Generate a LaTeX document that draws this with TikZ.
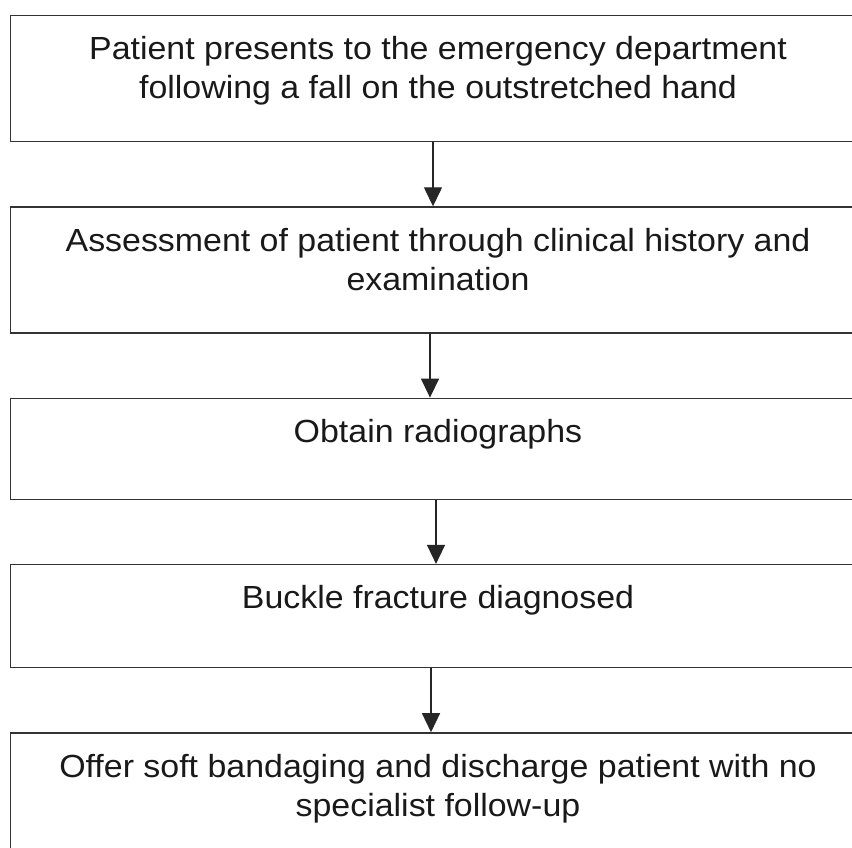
\documentclass[tikz,border=0pt]{standalone}
\usepackage{fontspec}
\setmainfont{Liberation Sans}[FakeStretch=1.06]
\usetikzlibrary{positioning,arrows.meta}

\begin{document}
\begin{tikzpicture}[x=1pt,y=1pt,>=latex]

% --- Global TikZ Styles ---
\tikzset{
    stepbox/.style={
        draw=black!80,
        line width=1.3pt,
        rectangle,
        inner xsep=10pt,
        inner ysep=21pt,
        text=black!90,
        font=\fontsize{32}{39}\selectfont
    },
    arrow/.style={
        -{Triangle[width=18pt,length=19pt]},
        line width=1.4pt,
        draw=black!85
    }
}

% Canvas
\useasboundingbox (0,0) rectangle (852,-848);

% ==================================================
% --- Boxes ---
% ==================================================

\node[stepbox, anchor=north] (fall) at (438,-15)
    {\parbox[c][84pt][t]{835pt}{\centering
     Patient presents to the emergency department\\
     following a fall on the outstretched hand}};

\node[stepbox, below=64pt of fall] (assess)
    {\parbox[c][84pt][t]{835pt}{\centering
     Assessment of patient through clinical history and\\
     examination}};

\node[stepbox, below=64pt of assess] (xray)
    {\parbox[c][59pt][t]{835pt}{\centering
     Obtain radiographs}};

\node[stepbox, below=64pt of xray] (buckle)
    {\parbox[c][61pt][t]{835pt}{\centering
     Buckle fracture diagnosed}};

\node[stepbox, below=64pt of buckle] (discharge)
    {\parbox[c][84pt][t]{835pt}{\centering
     Offer soft bandaging and discharge patient with no\\
     specialist follow-up}};

% ==================================================
% --- Arrows ---
% ==================================================

\draw[arrow] ([xshift=-5pt]fall.south) -- ([xshift=-5pt]assess.north);
\draw[arrow] ([xshift=-8pt]assess.south) -- ([xshift=-8pt]xray.north);
\draw[arrow] ([xshift=-2pt]xray.south) -- ([xshift=-2pt]buckle.north);
\draw[arrow] ([xshift=-7pt]buckle.south) -- ([xshift=-7pt]discharge.north);

\end{tikzpicture}
\end{document}
